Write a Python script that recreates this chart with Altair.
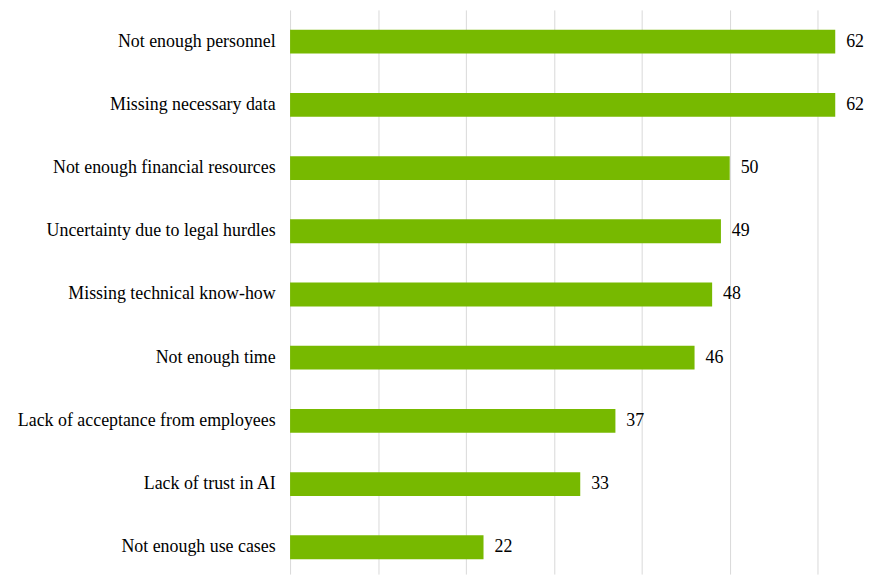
import altair as alt
import pandas as pd

categories = [
    "Not enough personnel",
    "Missing necessary data",
    "Not enough financial resources",
    "Uncertainty due to legal hurdles",
    "Missing technical know-how",
    "Not enough time",
    "Lack of acceptance from employees",
    "Lack of trust in AI",
    "Not enough use cases",
]
values = [62, 62, 50, 49, 48, 46, 37, 33, 22]

df = pd.DataFrame({"category": categories, "value": values})

FONT = "Liberation Serif"

y_enc = alt.Y(
    "category:N",
    sort=categories,
    title=None,
    scale=alt.Scale(paddingInner=0.623, paddingOuter=0.275, align=0.571),
    axis=alt.Axis(
        labelFont=FONT,
        labelFontSize=18,
        labelColor="#000000",
        labelPadding=15,
        labelLimit=0,
        ticks=False,
        domain=False,
        grid=False,
    ),
)
x_enc = alt.X(
    "value:Q",
    title=None,
    scale=alt.Scale(domain=[0, 68], nice=False),
    axis=alt.Axis(
        values=[0, 10, 20, 30, 40, 50, 60],
        labels=False,
        ticks=False,
        domain=False,
        grid=True,
        gridColor="#d9d9d9",
        gridWidth=1,
    ),
)

bars = alt.Chart(df).mark_bar(color="#77B900").encode(x=x_enc, y=y_enc)
text = alt.Chart(df).mark_text(
    align="left", baseline="middle", dx=11, font=FONT, fontSize=18, color="#000000"
).encode(x=alt.X("value:Q"), y=alt.Y("category:N", sort=categories), text="value:Q")

chart = (
    alt.layer(bars, text)
    .properties(
        width=602,
        height=568,
        autosize=alt.AutoSizeParams(type="none"),
        padding={"left": 284, "top": 0, "right": 0, "bottom": 0},
    )
    .configure_view(stroke=None)
)

chart.save("out.html", embed_options={"renderer": "svg", "actions": False})
